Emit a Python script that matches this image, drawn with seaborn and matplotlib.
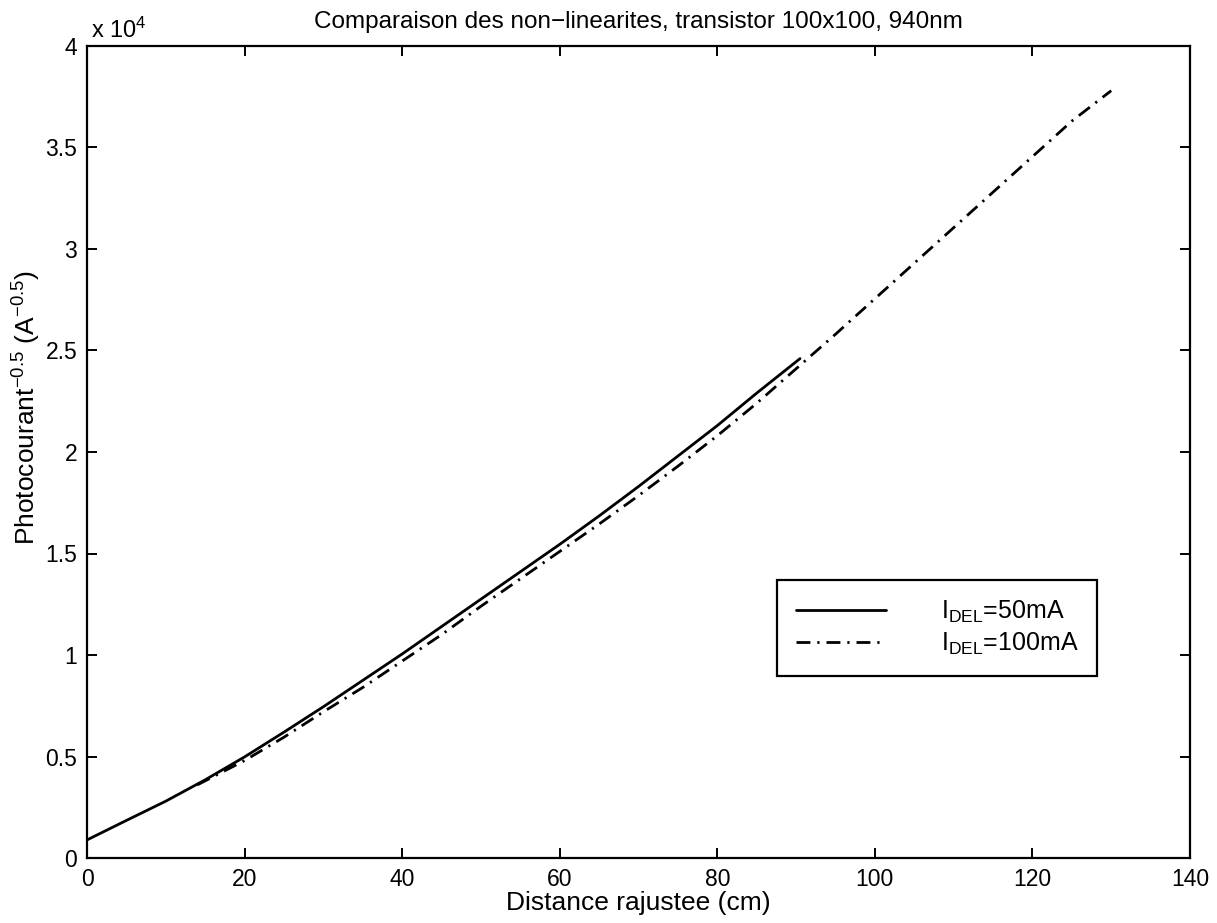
import matplotlib
matplotlib.use("Agg")
import matplotlib.pyplot as plt
import seaborn as sns
import pandas as pd
from matplotlib.ticker import FuncFormatter

# ---- data ----
dist_50 = [0, 5, 10, 15, 20, 25, 30, 35, 40, 45, 50, 55, 60, 65, 70, 75, 80, 85, 90.5]
photo_50 = [890, 1850, 2800, 3850, 4980, 6200, 7450, 8750, 10050, 11400, 12750,
            14100, 15450, 16850, 18300, 19800, 21300, 22900, 24600]

dist_100 = [14, 20, 25, 30, 35, 40, 45, 50, 55, 60, 65, 70, 75, 80, 85, 90, 95,
            100, 105, 110, 115, 120, 125, 130]
photo_100 = [3600, 4800, 5950, 7200, 8400, 9700, 11000, 12400, 13750, 15100, 16450,
             17850, 19300, 20800, 22400, 24100, 25800, 27550, 29300, 31050, 32800,
             34550, 36300, 37800]

label_50 = "I$_{\\mathrm{DEL}}$=50mA"
label_100 = "I$_{\\mathrm{DEL}}$=100mA"
title = "Comparaison des non\u2212linearites, transistor 100x100, 940nm"
xlabel = "Distance rajustee (cm)"
ylabel = "Photocourant$^{-0.5}$ (A$^{-0.5}$)"
x_ticks = [0, 20, 40, 60, 80, 100, 120, 140]
y_ticks = [0, 5000, 10000, 15000, 20000, 25000, 30000, 35000, 40000]

df50 = pd.DataFrame({"x": dist_50, "y": photo_50})
df100 = pd.DataFrame({"x": dist_100, "y": photo_100})

sns.set_style("ticks")
plt.rcParams["font.family"] = ["Liberation Sans", "DejaVu Sans"]
plt.rcParams["mathtext.fontset"] = "custom"
plt.rcParams["mathtext.rm"] = "Liberation Sans"
plt.rcParams["mathtext.it"] = "Liberation Sans"
plt.rcParams["mathtext.bf"] = "Liberation Sans:bold"
plt.rcParams["text.color"] = "black"
plt.rcParams["axes.labelcolor"] = "black"
plt.rcParams["xtick.color"] = "black"
plt.rcParams["ytick.color"] = "black"

fig = plt.figure(figsize=(12.17, 9.23), dpi=100)
ax = fig.add_axes([87 / 1217, 1 - 858 / 923, (1190 - 87) / 1217, (858 - 46) / 923])

sns.lineplot(data=df50, x="x", y="y", ax=ax, color="black", linewidth=2.0,
             label=label_50, estimator=None, sort=False)
sns.lineplot(data=df100, x="x", y="y", ax=ax, color="black", linewidth=2.0,
             linestyle=(0, (5, 2.5, 0.8, 2.5)), label=label_100,
             estimator=None, sort=False)

ax.set_xlim(0, 140)
ax.set_ylim(0, 40000)
ax.set_xticks(x_ticks)
ax.set_yticks(y_ticks)
ax.yaxis.set_major_formatter(FuncFormatter(lambda v, p: f"{v / 1e4:g}"))

for s in ax.spines.values():
    s.set_visible(True)
    s.set_linewidth(1.6)
    s.set_color("black")
ax.tick_params(direction="in", length=7, width=1.4, top=True, right=True,
               labelsize=16.5, pad=7, colors="black")

ax.set_xlabel(xlabel, fontsize=19, labelpad=0, color="black")
ax.set_ylabel(ylabel, fontsize=19, color="black")
ax.yaxis.set_label_coords(-0.040, 0.555)
ax.set_title(title, fontsize=17.5, pad=13, color="black")
ax.text(0.004, 1.004, "x 10$^{4}$", transform=ax.transAxes, fontsize=17,
        ha="left", va="bottom", color="black")

leg = ax.legend(loc="upper left", bbox_to_anchor=(777 / 1217, 1 - 580 / 923),
                bbox_transform=fig.transFigure, fontsize=18, frameon=True,
                fancybox=False, edgecolor="black", framealpha=1,
                handlelength=3.6, handletextpad=2.2, borderpad=0.75,
                labelspacing=0.25, borderaxespad=0)
leg.get_frame().set_linewidth(1.6)
for t in leg.get_texts():
    t.set_color("black")

fig.savefig("out.png", dpi=100)
